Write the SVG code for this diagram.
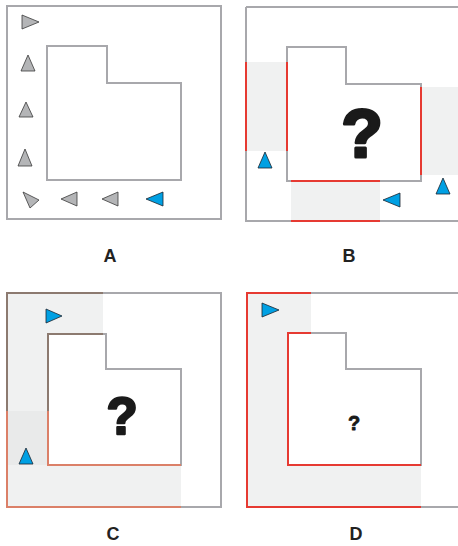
<svg xmlns="http://www.w3.org/2000/svg" width="458" height="546" viewBox="0 0 458 546">
<style>
.frame{fill:none;stroke:#a8a8ac;stroke-width:2}
.shade{fill:#f0f1f1;stroke:none}
.red{fill:none;stroke:#e63a32;stroke-width:2}
.brown{fill:none;stroke:#8c7a70;stroke-width:2}
.salmon{fill:none;stroke:#db8068;stroke-width:2}
.tri{fill:#b4b5b7;stroke:#3a3a3a;stroke-width:0.8;stroke-linejoin:round}
.blue{fill:#00a0e3;stroke:#1a2530;stroke-width:0.8;stroke-linejoin:round}
.lbl{font-family:"Liberation Sans",Arial,sans-serif;font-weight:bold;font-size:18px;fill:#222;text-anchor:middle}
.q{font-family:"Liberation Sans",Arial,sans-serif;font-weight:bold;fill:#1a1a1a;stroke:#1a1a1a;stroke-linejoin:round;text-anchor:middle}
</style>
<rect width="458" height="546" fill="#ffffff"/>

<g id="panelA">
  <rect class="frame" x="7" y="6" width="214" height="213"/>
  <path class="frame" d="M47,46 H107 V83 H181 V180 H47 Z"/>
  <polygon class="tri" points="22,15 39,22 22,29"/>
  <polygon class="tri" points="28,55 35,71 21,71"/>
  <polygon class="tri" points="26,102 33,117 19,117"/>
  <polygon class="tri" points="25,149 32,166 18,166"/>
  <polygon class="tri" points="23,192 39,200 30,208"/>
  <polygon class="tri" points="61,199 77,192 77,206"/>
  <polygon class="tri" points="102,199 118,192 118,206"/>
  <polygon class="blue" points="146,199 163,192 163,206"/>
  <text class="lbl" x="110" y="262">A</text>
</g>

<g id="panelB">
  <rect class="shade" x="246" y="62" width="41" height="89"/>
  <rect class="shade" x="291" y="181" width="89" height="40"/>
  <rect class="shade" x="421" y="87" width="40" height="88"/>
  <path class="frame" d="M246,7 H460 M246,7 V221 H460"/>
  <path class="frame" d="M287,47 H346 V84 H421 V181 H287 Z"/>
  <path class="red" d="M246,62 V151 M287,62 V151 M291,181 H380 M291,221 H380 M421,87 V175"/>
  <polygon class="blue" points="265,152 272,168 258,168"/>
  <polygon class="blue" points="383,200 400,193 400,207"/>
  <polygon class="blue" points="443,178 450,194 436,194"/>
  <text class="q" x="362" y="157" font-size="68" stroke-width="3">?</text>
  <text class="lbl" x="349" y="262">B</text>
</g>

<g id="panelC">
  <path class="shade" d="M7,293 H103 V334 H48 V465 H181 V507 H7 Z"/>
  <rect x="8" y="411" width="40" height="54" fill="#e9eaea"/>
  <rect class="frame" x="7" y="293" width="214" height="214"/>
  <path class="frame" d="M48,334 H106 V369 H181 V465 H48 Z"/>
  <path class="brown" d="M103,293 H7 V411 M103,334 H48 V411"/>
  <path class="salmon" d="M7,411 V507 H181 M48,411 V465 H181"/>
  <polygon class="blue" points="46,309 62,316 46,323"/>
  <polygon class="blue" points="26,448 33,464 19,464"/>
  <text class="q" x="122" y="434" font-size="51" stroke-width="2.4">?</text>
  <text class="lbl" x="113" y="540">C</text>
</g>

<g id="panelD">
  <path class="shade" d="M247,293 H311 V333 H288 V465 H421 V507 H247 Z"/>
  <path class="frame" d="M247,293 H460 M247,507 H460"/>
  <path class="frame" d="M288,333 H346 V369 H421 V465 H288 Z"/>
  <path class="red" d="M311,293 H247 V507 H421 M311,333 H288 V465 H421"/>
  <polygon class="blue" points="262,303 279,310 262,317"/>
  <text class="q" x="354" y="430" font-size="20" stroke-width="0.8">?</text>
  <text class="lbl" x="356" y="540">D</text>
</g>
</svg>
